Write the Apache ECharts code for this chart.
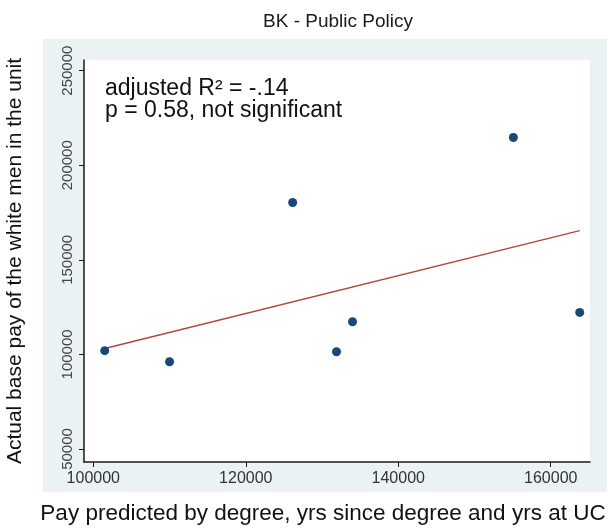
<!DOCTYPE html>
<html>
<head>
<meta charset="utf-8">
<script src="https://cdn.jsdelivr.net/npm/echarts@6/dist/echarts.min.js"></script>
<style>
  html, body { margin: 0; padding: 0; background: #ffffff; }
  #chart { width: 614px; height: 531px; }
</style>
</head>
<body>
<div id="chart"></div>
<script>
// ---- data ----
const predictedPay = [101500, 110000, 126150, 131900, 134000, 155100, 163800];
const actualPay    = [102000,  96100, 180300, 101400, 117300, 214700, 122200];
const xTickValues  = [100000, 120000, 140000, 160000];
const yTickValues  = [50000, 100000, 150000, 200000, 250000];
const chartTitle   = 'BK - Public Policy';
const xTitle       = 'Pay predicted by degree, yrs since degree and yrs at UC';
const yTitle       = 'Actual base pay of the white men in the unit';
const noteLines    = ['adjusted R\u00B2 = -.14', 'p = 0.58, not significant'];

// ---- build series data ----
const points = predictedPay.map((x, i) => [x, actualPay[i]]);

// least-squares fit line through the points
const n = predictedPay.length;
const mx = predictedPay.reduce((a, b) => a + b, 0) / n;
const my = actualPay.reduce((a, b) => a + b, 0) / n;
let sxy = 0, sxx = 0;
for (let i = 0; i < n; i++) {
  sxy += (predictedPay[i] - mx) * (actualPay[i] - my);
  sxx += (predictedPay[i] - mx) ** 2;
}
const slope = sxy / sxx;
const intercept = my - slope * mx;
const xMin = Math.min(...predictedPay), xMax = Math.max(...predictedPay);
const fitLine = [[xMin, intercept + slope * xMin], [xMax, intercept + slope * xMax]];

const FONT = "'Liberation Sans', Arial, Helvetica, sans-serif";
const NARROW = "'Liberation Sans Narrow', 'Arial Narrow', 'Liberation Sans', Arial, sans-serif";
const plain = v => String(Math.round(v));

const chart = echarts.init(document.getElementById('chart'), null, { renderer: 'canvas' });
chart.setOption({
  backgroundColor: '#ffffff',
  animation: false,
  title: {
    text: chartTitle,
    left: 333,
    top: 7,
    textAlign: 'center',
    textStyle: { fontFamily: FONT, fontSize: 19, fontWeight: 'normal', color: '#1a1a1a' }
  },
  graphic: [
    {
      type: 'rect',
      z: -10,
      silent: true,
      shape: { x: 43, y: 39, width: 564, height: 453 },
      style: { fill: '#eaf2f4' }
    },
    {
      type: 'text',
      z: 100,
      left: 105,
      top: 77,
      style: {
        text: noteLines.join('\n'),
        fontFamily: FONT,
        fontSize: 23,
        lineHeight: 22,
        fill: '#111111'
      }
    }
  ],
  grid: {
    left: 84,
    right: 24,
    top: 60,
    bottom: 69,
    show: true,
    backgroundColor: '#ffffff',
    borderWidth: 0,
    containLabel: false,
    outerBoundsMode: 'none'
  },
  xAxis: {
    type: 'value',
    min: 98780,
    max: 165150,
    name: xTitle,
    nameLocation: 'middle',
    nameGap: 40,
    nameTextStyle: { fontFamily: FONT, fontSize: 22.5, color: '#111111', padding: [0, 28, 0, 0] },
    axisLine: { show: true, onZero: false, lineStyle: { color: '#1a1a1a', width: 1.5 } },
    axisTick: { show: true, length: 5, customValues: xTickValues, lineStyle: { color: '#1a1a1a' } },
    axisLabel: {
      customValues: xTickValues,
      formatter: plain,
      margin: 9,
      fontFamily: NARROW,
      fontSize: 16,
      color: '#333333',
      showMinLabel: true,
      showMaxLabel: true
    },
    splitLine: { show: false }
  },
  yAxis: {
    type: 'value',
    min: 43130,
    max: 255650,
    name: yTitle,
    nameLocation: 'middle',
    nameGap: 58,
    nameRotate: 90,
    nameTextStyle: { fontFamily: FONT, fontSize: 21, color: '#111111' },
    axisLine: { show: true, onZero: false, lineStyle: { color: '#1a1a1a', width: 1.5 } },
    axisTick: { show: true, length: 5, customValues: yTickValues, lineStyle: { color: '#1a1a1a' } },
    axisLabel: {
      customValues: yTickValues,
      formatter: plain,
      rotate: 90,
      margin: 9,
      fontFamily: FONT,
      fontSize: 15,
      color: '#444444',
      showMinLabel: true,
      showMaxLabel: true
    },
    splitLine: { show: false }
  },
  series: [
    {
      type: 'line',
      data: fitLine,
      symbol: 'none',
      lineStyle: { color: '#b8423e', width: 1.5 },
      z: 2,
      silent: true
    },
    {
      type: 'scatter',
      data: points,
      symbol: 'circle',
      symbolSize: 9,
      itemStyle: { color: '#1a4876', opacity: 1 },
      z: 3
    }
  ]
});
</script>
</body>
</html>
